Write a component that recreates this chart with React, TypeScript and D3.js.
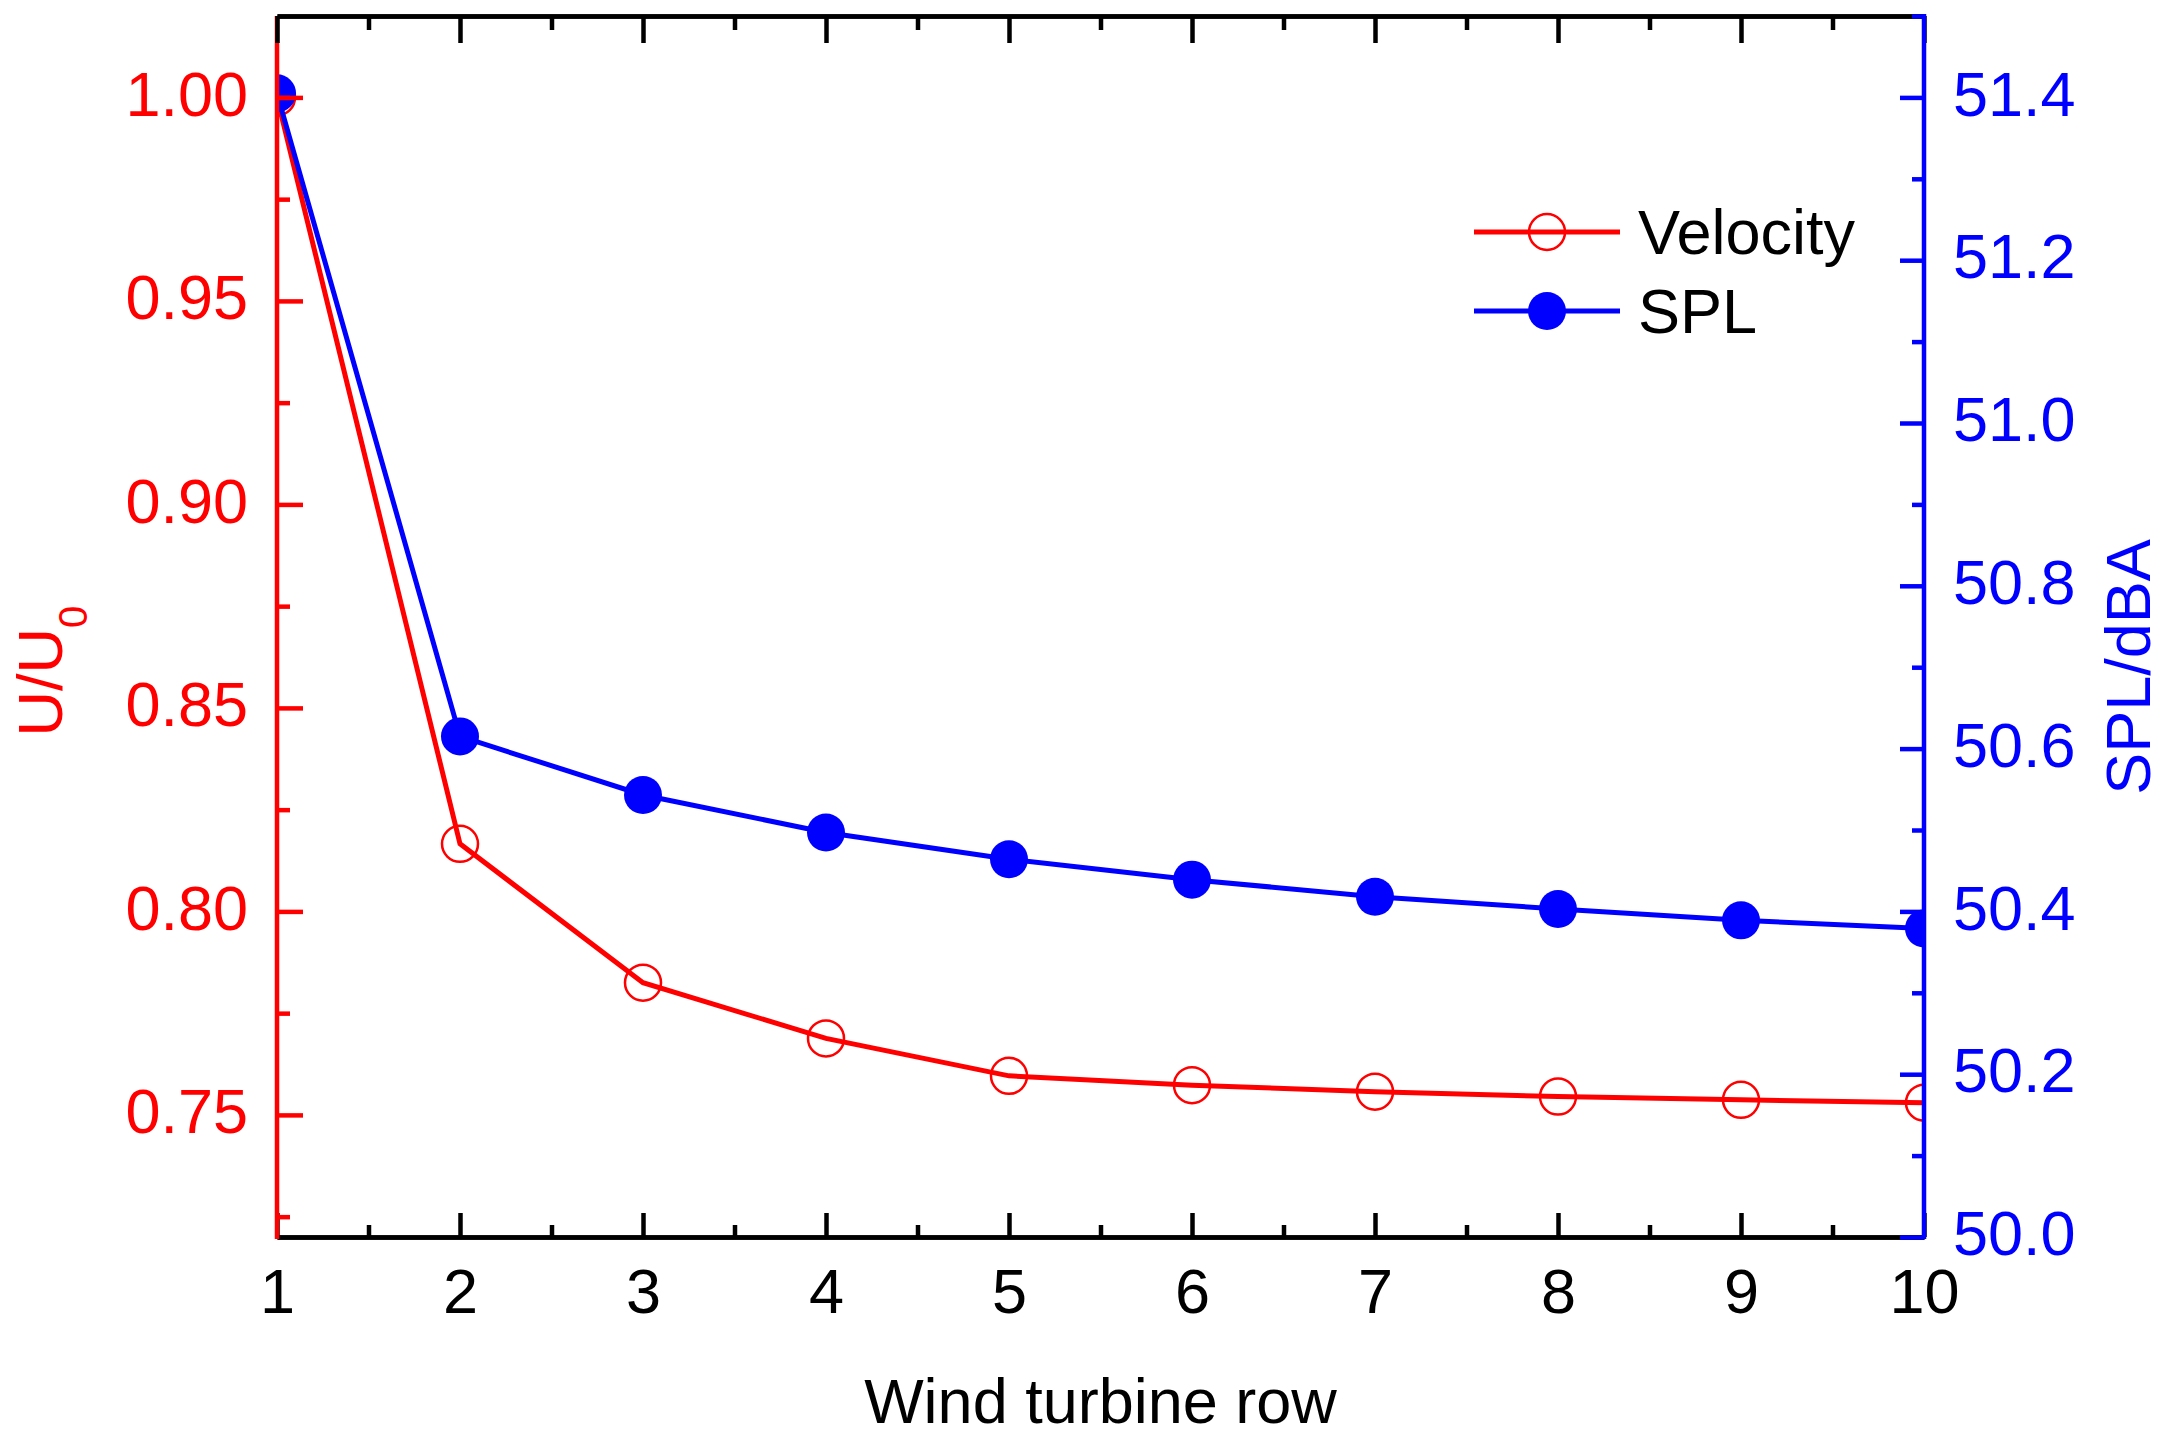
import { useEffect, useRef } from "react";
import * as d3 from "d3";

// Data
const rows = [1, 2, 3, 4, 5, 6, 7, 8, 9, 10];
const velocity = [1.0, 0.8166, 0.7825, 0.7688, 0.7596, 0.7573, 0.7557, 0.7545, 0.7537, 0.753];
const spl = [51.405, 50.615, 50.543, 50.497, 50.464, 50.439, 50.418, 50.403, 50.389, 50.379];

const xTicks = [1, 2, 3, 4, 5, 6, 7, 8, 9, 10];
const xMinor = [1.5, 2.5, 3.5, 4.5, 5.5, 6.5, 7.5, 8.5, 9.5];
const leftTicks = [0.75, 0.8, 0.85, 0.9, 0.95, 1.0];
const leftMinor = [0.725, 0.775, 0.825, 0.875, 0.925, 0.975, 1.0];
const rightTicks = [50.0, 50.2, 50.4, 50.6, 50.8, 51.0, 51.2, 51.4];
const rightMinor = [50.1, 50.3, 50.5, 50.7, 50.9, 51.1, 51.3, 51.5];

const legendItems = ["Velocity", "SPL"];

const W = 2169;
const H = 1451;
const FONT = "'Liberation Sans', Arial, Helvetica, sans-serif";
const RED = "#ff0000";
const BLUE = "#0000ff";

/**
 * Dual axis line chart: velocity deficit and SPL along wind turbine rows.
 */
const App: React.FC = () => {
    const svgRef = useRef<SVGSVGElement | null>(null);

    useEffect(() => {
        document.body.style.margin = "0";
        if (!svgRef.current) return;

        const margin = { top: 16, right: 245, bottom: 214, left: 277 };
        const innerW = W - margin.left - margin.right;
        const innerH = H - margin.top - margin.bottom;

        const svg = d3.select(svgRef.current);
        svg.selectAll("*").remove();

        const x = d3.scaleLinear().domain([1, 10]).range([0, innerW]);
        const yL = d3.scaleLinear().domain([0.72, 1.02]).range([innerH, 0]);
        const yR = d3.scaleLinear().domain([50, 51.5]).range([innerH, 0]);

        svg.append("defs").append("clipPath").attr("id", "plotClip")
            .append("rect").attr("x", 0).attr("y", 0).attr("width", innerW).attr("height", innerH);

        const g = svg.append("g").attr("transform", `translate(${margin.left},${margin.top})`);
        const plot = g.append("g").attr("clip-path", "url(#plotClip)");

        // Velocity series
        const lineL = d3.line<number>().x((_, i) => x(rows[i])).y(d => yL(d));
        plot.append("path").datum(velocity)
            .attr("d", lineL).attr("fill", "none").attr("stroke", RED).attr("stroke-width", 5);
        plot.selectAll(".vel").data(velocity).enter().append("circle")
            .attr("cx", (_, i) => x(rows[i])).attr("cy", d => yL(d)).attr("r", 18)
            .attr("fill", "none").attr("stroke", RED).attr("stroke-width", 2.5);

        // SPL series
        const lineR = d3.line<number>().x((_, i) => x(rows[i])).y(d => yR(d));
        plot.append("path").datum(spl)
            .attr("d", lineR).attr("fill", "none").attr("stroke", BLUE).attr("stroke-width", 5);
        plot.selectAll(".spl").data(spl).enter().append("circle")
            .attr("cx", (_, i) => x(rows[i])).attr("cy", d => yR(d)).attr("r", 19)
            .attr("fill", BLUE);

        const styleAxis = (sel: d3.Selection<SVGGElement, unknown, null, undefined>, color: string) => {
            sel.select(".domain").attr("stroke", color).attr("stroke-width", 4.5);
            sel.selectAll(".tick line").attr("stroke", color).attr("stroke-width", 4.5);
            sel.selectAll("text").attr("fill", color).style("font-family", FONT).style("font-size", "63px");
        };

        // Bottom axis
        const bottom = g.append("g").attr("transform", `translate(0,${innerH})`);
        bottom.append("g").call(d3.axisBottom(x).tickValues(xMinor).tickSize(-12).tickSizeOuter(0).tickFormat(() => ""))
            .call(s => styleAxis(s, "#000"));
        bottom.append("g").call(d3.axisBottom(x).tickValues(xTicks).tickSize(-24).tickSizeOuter(0).tickPadding(31).tickFormat(d3.format("d")))
            .call(s => styleAxis(s, "#000"))
            .call(s => s.selectAll("text").attr("dy", "0.71em"));

        // Left axis
        const left = g.append("g");
        left.append("g").call(d3.axisLeft(yL).tickValues(leftMinor).tickSize(-13).tickSizeOuter(0).tickFormat(() => ""))
            .call(s => styleAxis(s, RED))
            .call(s => s.select(".domain").attr("d", `M0,${innerH + 2}V0`));
        left.append("g").call(d3.axisLeft(yL).tickValues(leftTicks).tickSize(-26).tickSizeOuter(0).tickPadding(29).tickFormat(d3.format(".2f")))
            .call(s => styleAxis(s, RED))
            .call(s => s.select(".domain").remove())
            .call(s => s.selectAll("text").attr("dy", "0.28em"));

        // Top axis
        const top = g.append("g");
        top.append("g").call(d3.axisTop(x).tickValues(xMinor).tickSize(-14).tickSizeOuter(0).tickFormat(() => ""))
            .call(s => styleAxis(s, "#000"));
        top.append("g").call(d3.axisTop(x).tickValues(xTicks).tickSize(-27).tickSizeOuter(0).tickFormat(() => ""))
            .call(s => styleAxis(s, "#000"));

        // Right axis
        const right = g.append("g").attr("transform", `translate(${innerW},0)`);
        right.append("g").call(d3.axisRight(yR).tickValues(rightMinor).tickSize(-12).tickSizeOuter(0).tickFormat(() => ""))
            .call(s => styleAxis(s, BLUE))
            .call(s => s.select(".domain").attr("d", `M0,${innerH + 2}V-2`));
        right.append("g").call(d3.axisRight(yR).tickValues(rightTicks).tickSize(-24).tickSizeOuter(0).tickPadding(29).tickFormat(d3.format(".1f")))
            .call(s => styleAxis(s, BLUE))
            .call(s => s.select(".domain").remove())
            .call(s => s.selectAll("text").attr("dy", "0.28em"));

        // Axis titles
        svg.append("text")
            .attr("x", margin.left + innerW / 2).attr("y", 1423)
            .attr("text-anchor", "middle").attr("fill", "#000")
            .style("font-family", FONT).style("font-size", "63px")
            .text("Wind turbine row");

        const leftTitle = svg.append("text")
            .attr("transform", "translate(62,671) rotate(-90)")
            .attr("text-anchor", "middle").attr("fill", RED)
            .style("font-family", FONT).style("font-size", "63px");
        leftTitle.append("tspan").text("U/U");
        leftTitle.append("tspan").attr("dy", 25).style("font-size", "40px").text("0");

        svg.append("text")
            .attr("transform", "translate(2150,667) rotate(-90)")
            .attr("text-anchor", "middle").attr("fill", BLUE)
            .style("font-family", FONT).style("font-size", "63px")
            .text("SPL/dBA");

        // Legend
        const legend = svg.append("g").attr("transform", "translate(1474,232)");
        const colors = [RED, BLUE];
        legendItems.forEach((name, i) => {
            const row = legend.append("g").attr("transform", `translate(0,${i * 79})`);
            row.append("line").attr("x1", 0).attr("x2", 146).attr("y1", 0).attr("y2", 0)
                .attr("stroke", colors[i]).attr("stroke-width", 5);
            const c = row.append("circle").attr("cx", 73).attr("cy", 0).attr("r", 18);
            if (i === 0) c.attr("fill", "none").attr("stroke", RED).attr("stroke-width", 2.5);
            else c.attr("fill", BLUE).attr("r", 19);
            row.append("text").attr("x", 164).attr("y", 22)
                .attr("fill", "#000").style("font-family", FONT).style("font-size", "63px")
                .text(name);
        });
    }, []);

    return (
        <svg ref={svgRef} width={W} height={H} viewBox={`0 0 ${W} ${H}`}
            style={{ display: "block", background: "#fff" }}></svg>
    );
};

export default App;
